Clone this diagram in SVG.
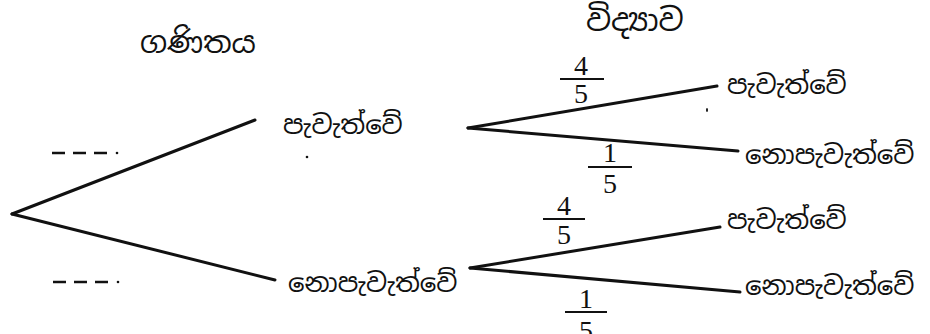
<svg xmlns="http://www.w3.org/2000/svg" width="930" height="334" viewBox="0 0 930 334">
<style>
.si{font-family:"Noto Sans Sinhala","Noto Serif Sinhala","Iskoola Pota","Noto Sans",sans-serif;font-size:26px;fill:#111}
.num{font-family:"Liberation Serif","Times New Roman",serif;font-size:28px;fill:#111;text-anchor:middle}
.edge{stroke:#111;stroke-width:3;stroke-linecap:round;fill:none}
.bar{stroke:#111;stroke-width:2;fill:none}
.blank{stroke:#111;stroke-width:2.4;stroke-dasharray:13 8;fill:none}
</style>
<rect width="930" height="334" fill="#fff"/>
<g id="connectors">
<line class="edge" x1="12" y1="214" x2="255" y2="120"/>
<line class="edge" x1="12" y1="214" x2="275" y2="280"/>
<line class="edge" x1="468" y1="128" x2="717" y2="86"/>
<line class="edge" x1="468" y1="128" x2="738" y2="151"/>
<line class="edge" x1="470" y1="268" x2="720" y2="227"/>
<line class="edge" x1="470" y1="268" x2="740" y2="292"/>
</g>
<g id="edge-labels">
<g id="p-held-1"><text class="num" x="581" y="75">4</text><line class="bar" x1="560" y1="79" x2="604" y2="79"/><text class="num" x="581" y="103">5</text></g>
<g id="p-not-1"><text class="num" x="610" y="162">1</text><line class="bar" x1="588" y1="167" x2="632" y2="167"/><text class="num" x="610" y="193">5</text></g>
<g id="p-held-2"><text class="num" x="564" y="215">4</text><line class="bar" x1="543" y1="219" x2="585" y2="219"/><text class="num" x="564" y="244">5</text></g>
<g id="p-not-2"><text class="num" x="586" y="308">1</text><line class="bar" x1="565" y1="312" x2="607" y2="312"/><text class="num" x="586" y="340">5</text></g>
</g>
<g id="header-math"><text class="si" x="140" y="53" style="font-size:30px">ගණිතය</text></g>
<g id="header-science"><text class="si" x="586" y="31" style="font-size:31px">විද්‍යාව</text></g>
<g id="root"></g>
<g id="math-held"><text class="si" x="283" y="134">පැවැත්වේ</text></g>
<g id="math-not"><text class="si" x="288" y="292">නොපැවැත්වේ</text></g>
<g id="sci-held-1"><text class="si" x="727" y="94">පැවැත්වේ</text></g>
<g id="sci-not-1"><text class="si" x="745" y="164">නොපැවැත්වේ</text></g>
<g id="sci-held-2"><text class="si" x="727" y="229">පැවැත්වේ</text></g>
<g id="sci-not-2"><text class="si" x="745" y="295">නොපැවැත්වේ</text></g>
<g id="blank-held"><line class="blank" x1="52" y1="153" x2="110" y2="153"/><circle cx="117" cy="153" r="1.3" fill="#111"/></g>
<g id="blank-not"><line class="blank" x1="53" y1="282" x2="111" y2="282"/><circle cx="118" cy="282" r="1.3" fill="#111"/></g>
<circle cx="307" cy="157" r="1.3" fill="#111"/>
<ellipse cx="707" cy="110" rx="1" ry="2" fill="#111"/>
</svg>
